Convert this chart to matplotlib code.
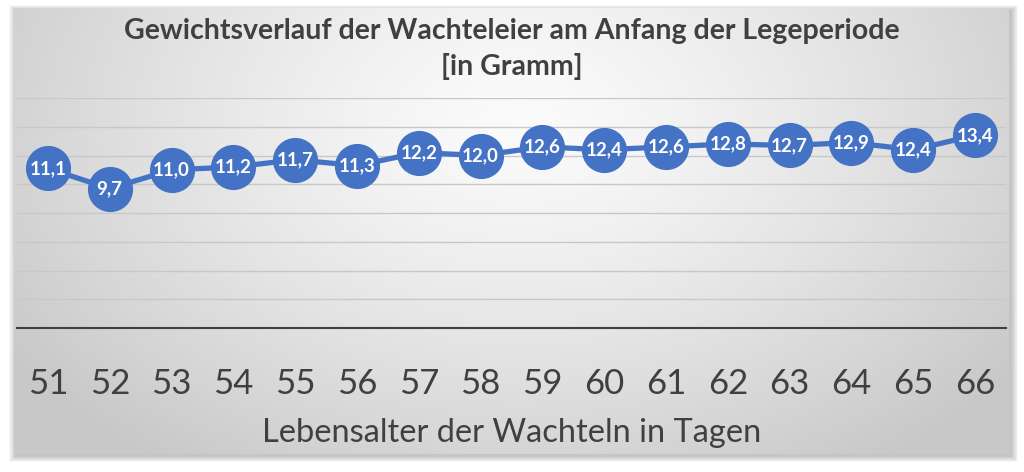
import numpy as np
import matplotlib
matplotlib.use("Agg")
import matplotlib.pyplot as plt
from matplotlib.patches import Rectangle

plt.rcParams['font.family'] = ['Lato', 'DejaVu Sans']

# Daten
tage = [51, 52, 53, 54, 55, 56, 57, 58, 59, 60, 61, 62, 63, 64, 65, 66]
gewicht = [11.1, 9.7, 11.0, 11.2, 11.7, 11.3, 12.2, 12.0, 12.6, 12.4,
           12.6, 12.8, 12.7, 12.9, 12.4, 13.4]

W, H = 1024, 472
fig = plt.figure(figsize=(W / 100, H / 100), dpi=100)
fig.patch.set_facecolor("white")

# --- Hintergrund: Karte mit Schatten und radialem Verlauf ---
bg = fig.add_axes([0, 0, 1, 1], zorder=0)
bg.set_xlim(0, W)
bg.set_ylim(H, 0)
bg.axis("off")

x0, x1, y0, y1 = 14, 1009, 8, 454
for i in range(1, 11):
    bg.add_patch(Rectangle((x0 - i * 0.7 + 2, y0 - i * 0.5 + 2),
                           (x1 - x0) + i * 1.4, (y1 - y0) + i * 1.1,
                           facecolor="black", alpha=0.025, lw=0, zorder=1))

gx, gy = np.meshgrid(np.linspace(x0, x1, 400), np.linspace(y0, y1, 200))
d = np.sqrt(((gx - 520) / 620) ** 2 + ((gy - 120) / 420) ** 2)
d = np.clip(d, 0, 1)
val = 0.985 - 0.20 * d ** 1.3
img = np.dstack([val, val, val])
bg.imshow(img, extent=(x0, x1, y1, y0), aspect="auto", interpolation="bilinear", zorder=2)

# --- Diagramm ---
ax = fig.add_axes([17 / W, 1 - 328 / H, 989 / W, 230 / H], zorder=2)
ax.patch.set_alpha(0)

pos = np.arange(len(tage))
ax.plot(pos, gewicht, color="#4472C4", lw=3.8, marker="o", markersize=31.5,
        markerfacecolor="#4472C4", markeredgecolor="#4472C4", clip_on=False, zorder=3)
for p, g in zip(pos, gewicht):
    ax.text(p, g, f"{g:.1f}".replace(".", ","), ha="center", va="center",
            color="white", fontsize=13.5, fontweight="bold", zorder=4)

ax.set_xlim(-0.5, len(tage) - 0.5)
ax.set_ylim(0, 16)
ax.set_yticks(np.arange(2, 17, 2))
ax.yaxis.grid(True, color="#c8c8c8", lw=1)
ax.set_axisbelow(True)
ax.tick_params(axis="y", left=False, labelleft=False)
ax.set_xticks(pos)
ax.set_xticklabels([str(t) for t in tage], fontsize=25, color="#404040")
ax.tick_params(axis="x", length=0, pad=29)
for s in ["top", "left", "right"]:
    ax.spines[s].set_visible(False)
ax.spines["bottom"].set_color("#404040")
ax.spines["bottom"].set_linewidth(1.5)
ax.set_xlabel("Lebensalter der Wachteln in Tagen", fontsize=23.5, color="#404040", labelpad=13)

fig.text(0.5, 1 - 49 / H, "Gewichtsverlauf der Wachteleier am Anfang der Legeperiode\n[in Gramm]",
         ha="center", va="center", fontsize=20.5, fontweight="bold", color="#404040",
         linespacing=1.45)

fig.savefig("out.png", dpi=100)
